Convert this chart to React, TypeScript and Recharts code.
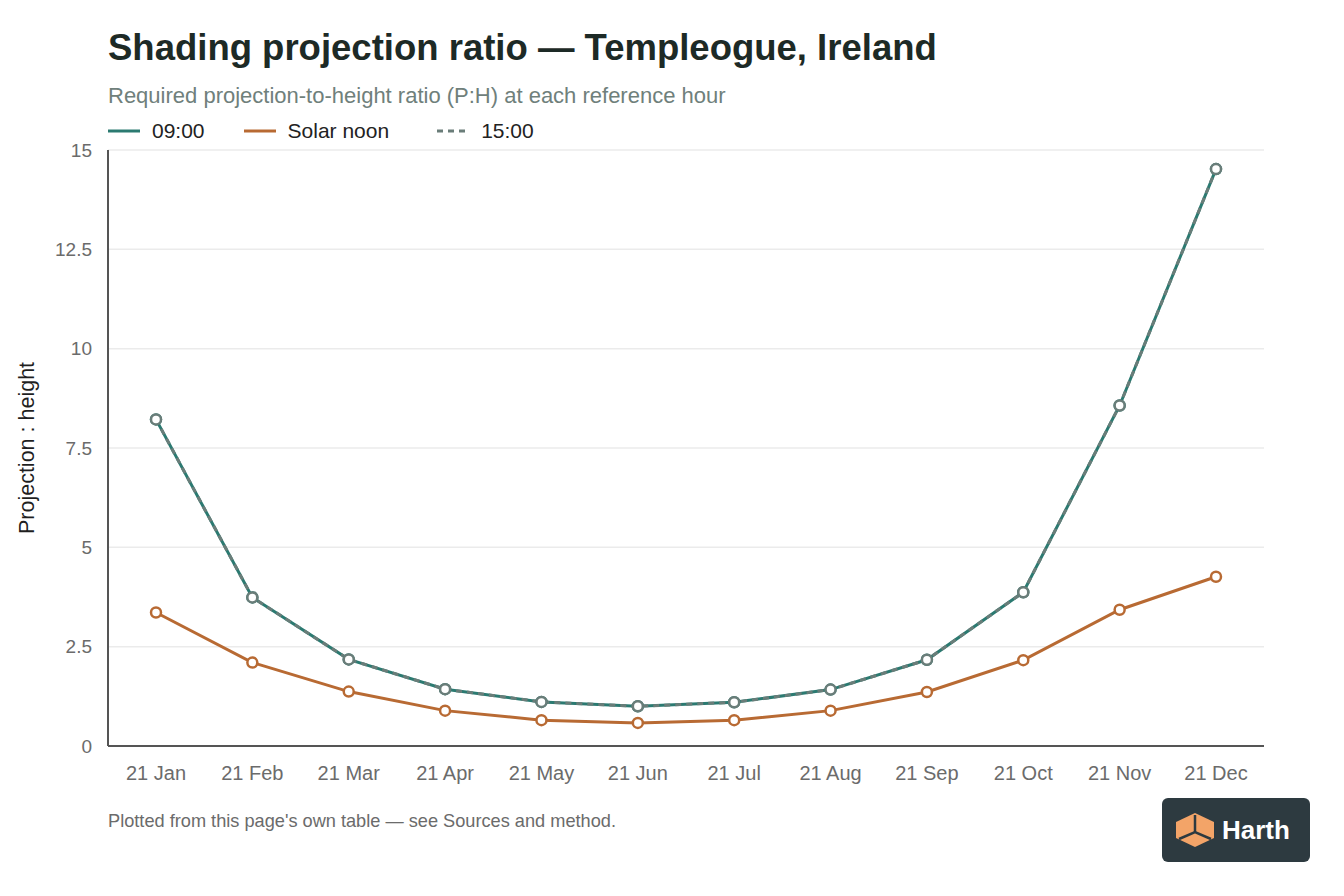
import React from 'react';
import { LineChart, Line, XAxis, YAxis, CartesianGrid } from 'recharts';

// reference dates, one per month
const MONTHS = ['21 Jan', '21 Feb', '21 Mar', '21 Apr', '21 May', '21 Jun', '21 Jul', '21 Aug', '21 Sep', '21 Oct', '21 Nov', '21 Dec'];
const AM_RATIO = [8.22, 3.74, 2.18, 1.43, 1.11, 1.0, 1.1, 1.42, 2.17, 3.87, 8.57, 14.52];
const NOON_RATIO = [3.36, 2.1, 1.37, 0.89, 0.65, 0.58, 0.65, 0.89, 1.36, 2.16, 3.43, 4.26];
const PM_RATIO = [8.22, 3.74, 2.18, 1.43, 1.11, 1.0, 1.1, 1.42, 2.17, 3.87, 8.57, 14.52];
const Y_TICKS = [0, 2.5, 5, 7.5, 10, 12.5, 15];

const SERIES = [
  { key: 'am', name: '09:00', color: '#2b7a71', dash: undefined as string | undefined, gap: 39 },
  { key: 'noon', name: 'Solar noon', color: '#b86a33', dash: undefined as string | undefined, gap: 48 },
  { key: 'pm', name: '15:00', color: '#6a7d79', dash: '6 5', gap: 0 },
];

const FONT = '"Liberation Sans", Arial, Helvetica, sans-serif';

const data = MONTHS.map((m, i) => ({ month: m, am: AM_RATIO[i], noon: NOON_RATIO[i], pm: PM_RATIO[i] }));

const AxisTitle = (props: any) => {
  const { viewBox } = props;
  const x = viewBox.x + 19;
  const y = viewBox.y + viewBox.height / 2;
  return (
    <text x={x} y={y} transform={`rotate(-90 ${x} ${y})`} textAnchor="middle" dominantBaseline="central" fill="#1f1f1f" fontSize={21.5} fontFamily={FONT}>
      Projection : height
    </text>
  );
};

const Logo = () => (
  <div style={{ position: 'absolute', left: 1162, top: 798, width: 148, height: 64, background: '#2d3a40', borderRadius: 6, display: 'flex', alignItems: 'center', gap: 6, paddingLeft: 12, boxSizing: 'border-box' }}>
    <svg width={42} height={36} viewBox="0 0 42 36">
      <polygon points="21,1 40,10 40,26 21,35 2,26 2,10" fill="#f3a468" />
      <polyline points="21,3 21,20" stroke="#2d3a40" strokeWidth={2.5} fill="none" />
      <polyline points="5,27 21,20 37,27" stroke="#2d3a40" strokeWidth={2.5} fill="none" />
    </svg>
    <span style={{ color: '#ffffff', fontSize: 26, fontWeight: 700, fontFamily: FONT }}>Harth</span>
  </div>
);

const App: React.FC = () => {
  return (
    <div style={{ position: 'absolute', left: 0, top: 0, width: 1344, height: 896, background: '#fff', fontFamily: FONT }}>
      <div style={{ position: 'absolute', left: 108, top: 27, fontSize: 36.5, fontWeight: 700, color: '#1d2a26', whiteSpace: 'nowrap' }}>
        Shading projection ratio — Templeogue, Ireland
      </div>
      <div style={{ position: 'absolute', left: 108, top: 83, fontSize: 22, color: '#6f807b', whiteSpace: 'nowrap' }}>
        Required projection-to-height ratio (P:H) at each reference hour
      </div>
      <div style={{ position: 'absolute', left: 108, top: 119, display: 'flex', alignItems: 'center', fontSize: 21, color: '#222' }}>
        {SERIES.map(s => (
          <div key={s.key} style={{ display: 'flex', alignItems: 'center', marginRight: s.gap }}>
            <svg width={32} height={4} style={{ marginRight: 12 }}>
              <line x1={0} y1={2} x2={32} y2={2} stroke={s.color} strokeWidth={3} strokeDasharray={s.dash} />
            </svg>
            <span>{s.name}</span>
          </div>
        ))}
      </div>

      <div style={{ position: 'absolute', left: 0, top: 0 }}>
        <LineChart width={1344} height={896} data={data} margin={{ top: 150, right: 80, bottom: 110, left: 8 }}>
          <CartesianGrid vertical={false} stroke="#ebebeb" strokeWidth={1.5} />
          <XAxis
            dataKey="month"
            height={40}
            padding={{ left: 48, right: 48 }}
            stroke="#555"
            strokeWidth={2}
            tickLine={false}
            tickSize={0}
            tickMargin={20}
            tick={{ fill: '#6b6b6b', fontSize: 20, fontFamily: FONT }}
            interval={0}
          />
          <YAxis
            width={100}
            domain={[0, 15]}
            ticks={Y_TICKS}
            stroke="#555"
            strokeWidth={2}
            tickLine={false}
            tickSize={0}
            tickMargin={16}
            tick={{ fill: '#6b6b6b', fontSize: 19, fontFamily: FONT }}
            label={<AxisTitle />}
          />
          {SERIES.map(s => (
            <Line
              key={s.key}
              type="linear"
              dataKey={s.key}
              name={s.name}
              stroke={s.color}
              strokeWidth={3}
              strokeDasharray={s.dash}
              dot={{ r: 5, fill: '#fff', stroke: s.color, strokeWidth: 2.5, strokeDasharray: 'none' }}
              activeDot={false}
              isAnimationActive={false}
            />
          ))}
        </LineChart>
      </div>

      <div style={{ position: 'absolute', left: 108, top: 811, fontSize: 18.2, color: '#6b6b6b', whiteSpace: 'nowrap' }}>
        Plotted from this page's own table — see Sources and method.
      </div>
      <Logo />
    </div>
  );
};

export default App;
